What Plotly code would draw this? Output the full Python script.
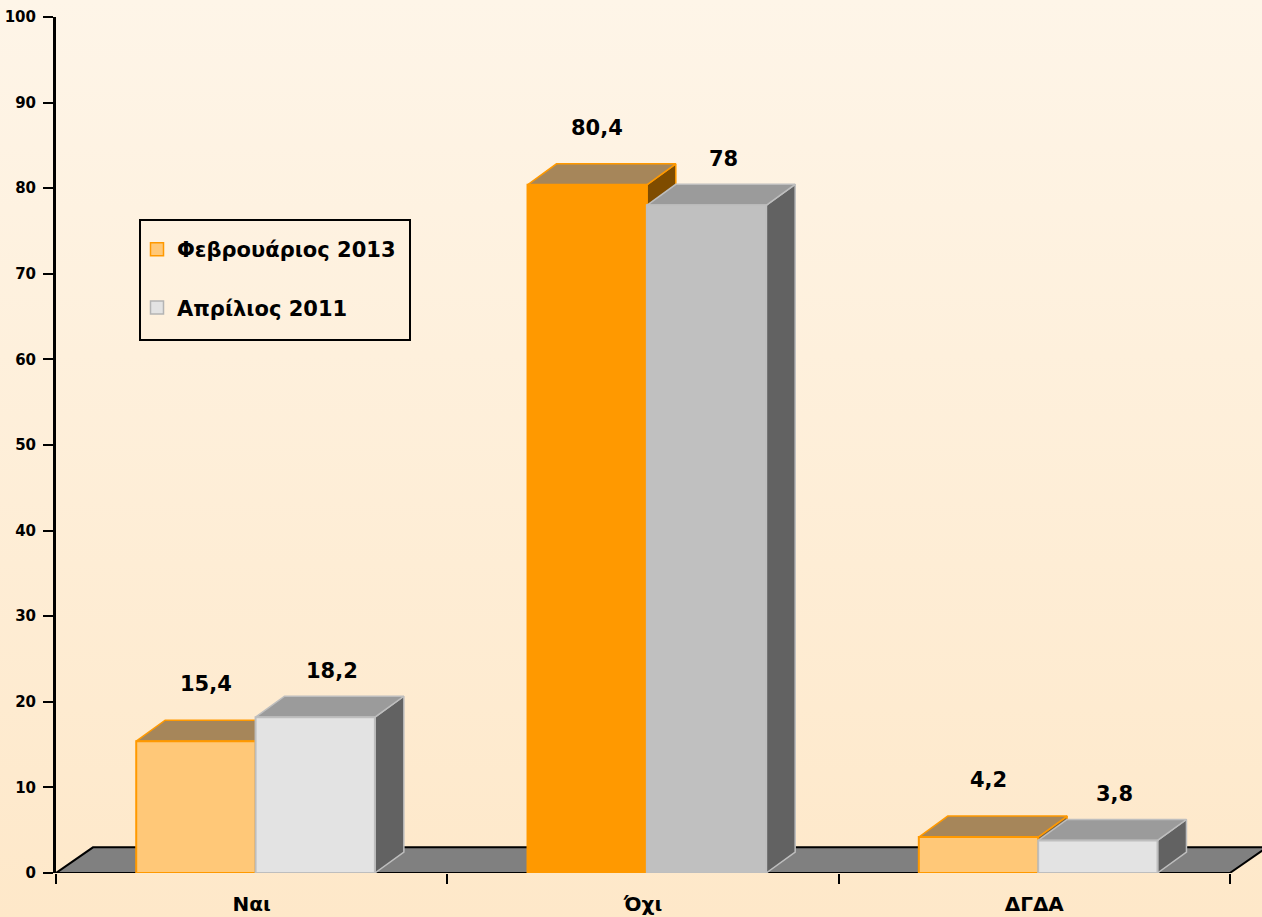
import plotly.graph_objects as go

# ---- data -------------------------------------------------------------
categories = ["Ναι", "Όχι", "ΔΓΔΑ"]
series_names = ["Φεβρουάριος 2013", "Απρίλιος 2011"]
feb_2013 = [15.4, 80.4, 4.2]
apr_2011 = [18.2, 78.0, 3.8]
y_ticks = [0, 10, 20, 30, 40, 50, 60, 70, 80, 90, 100]

# ---- styling -----------------------------------------------------------
FONT = "DejaVu Sans"
W, H = 1262, 917
PLOT_LEFT, PLOT_TOP, PLOT_BOTTOM = 56, 17, 44
X_UNIT_PX = 391.3                       # pixels per category slot
X_MAX = (W - PLOT_LEFT) / X_UNIT_PX

BAR_W = 0.305
OFFSETS = [-0.295, 0.010]
DX, DY = 0.074, 2.45                    # bar depth (x units, y units)
FLOOR_DX, FLOOR_DY = 0.0945, 3.0

styles = [
    dict(front=["#FFC878", "#FF9900", "#FFC878"],
         top=["#A6865A", "#A6865A", "#A6865A"],
         side=["#80643C", "#7F4C00", "#80643C"],
         line="#FF9900", legend_fill="#FFC878", legend_line="#FF9900",
         label_dx=10, label_dy=57),
    dict(front=["#E3E3E3", "#C0C0C0", "#E3E3E3"],
         top=["#9B9B9B", "#9B9B9B", "#9B9B9B"],
         side=["#626262", "#626262", "#626262"],
         line="#BEBEBE", legend_fill="#E3E3E3", legend_line="#B4B4B4",
         label_dx=17, label_dy=46),
]

BG_TOP, BG_BOTTOM = "#FEF5E8", "#FEE8C9"

fig = go.Figure()

# page background gradient (full-page subplot drawn first)
fig.add_trace(go.Scatter(
    x=[0, 1, 1, 0, 0], y=[0, 0, 1, 1, 0], mode="lines", fill="toself",
    line=dict(width=0), fillgradient=dict(type="vertical",
                                         colorscale=[[0, BG_BOTTOM], [1, BG_TOP]]),
    hoverinfo="skip", showlegend=False, xaxis="x", yaxis="y"))


def poly(xs, ys, fill, line_color, line_width):
    fig.add_trace(go.Scatter(
        x=xs + [xs[0]], y=ys + [ys[0]], mode="lines", fill="toself",
        fillcolor=fill, line=dict(color=line_color, width=line_width),
        hoverinfo="skip", showlegend=False, xaxis="x2", yaxis="y2"))


# floor
n_cat = len(categories)
poly([0, n_cat, n_cat + FLOOR_DX, FLOOR_DX], [0, 0, FLOOR_DY, FLOOR_DY],
     "#808080", "#000000", 2)

# 3-D columns: side, top, front for each series, left series first
all_values = [feb_2013, apr_2011]
for ci in range(n_cat):
    c = ci + 0.5
    for si, vals in enumerate(all_values):
        st = styles[si]
        v = vals[ci]
        x0 = c + OFFSETS[si]
        x1 = x0 + BAR_W
        poly([x1, x1 + DX, x1 + DX, x1], [0, DY, v + DY, v],
             st["side"][ci], st["line"], 1.5)
        poly([x0, x1, x1 + DX, x0 + DX], [v, v, v + DY, v + DY],
             st["top"][ci], st["line"], 1.5)
        poly([x0, x1, x1, x0], [0, 0, v, v],
             st["front"][ci], st["line"], 2)

# legend entries
for si, name in enumerate(series_names):
    st = styles[si]
    fig.add_trace(go.Scatter(
        x=[None], y=[None], mode="markers", name=name, legendgroup=name,
        marker=dict(symbol="square", size=13, color=st["legend_fill"],
                    line=dict(color=st["legend_line"], width=1.5)),
        xaxis="x2", yaxis="y2"))

# value labels
annotations = []
for si, vals in enumerate(all_values):
    st = styles[si]
    for ci, v in enumerate(vals):
        xc = ci + 0.5 + OFFSETS[si] + BAR_W / 2
        annotations.append(dict(
            x=xc, y=v, xref="x2", yref="y2", text=f"{v:g}".replace(".", ","),
            showarrow=False, xshift=st["label_dx"], yshift=st["label_dy"],
            font=dict(family=FONT, size=21, color="#000000", weight="bold")))

x_dom = [PLOT_LEFT / W, 1.0]
y_dom = [PLOT_BOTTOM / H, 1 - PLOT_TOP / H]

# legend frame
shapes = [dict(type="rect", xref="paper", yref="paper",
               x0=140 / W, x1=410 / W, y0=1 - 340 / H, y1=1 - 220 / H,
               line=dict(color="#000000", width=2), fillcolor="rgba(0,0,0,0)",
               layer="above")]

fig.update_layout(
    width=W, height=H,
    margin=dict(l=0, r=0, t=0, b=0, autoexpand=False),
    paper_bgcolor=BG_TOP, plot_bgcolor="rgba(0,0,0,0)",
    font=dict(family=FONT, color="#000000", weight="bold"),
    xaxis=dict(domain=[0, 1], range=[0, 1], visible=False, fixedrange=True,
               automargin=False),
    yaxis=dict(domain=[0, 1], range=[0, 1], visible=False, fixedrange=True,
               automargin=False),
    xaxis2=dict(domain=x_dom, range=[0, X_MAX], anchor="y2", automargin=False,
                tickmode="array", tickvals=[i + 0.5 for i in range(n_cat)],
                ticktext=categories, ticks="", showgrid=False, zeroline=False,
                showline=False, ticklabelstandoff=17,
                tickfont=dict(family=FONT, size=20, weight="bold"),
                minor=dict(tickmode="array", tickvals=list(range(n_cat + 1)),
                           ticks="outside", ticklen=10, tickwidth=2,
                           tickcolor="#000000", showgrid=False)),
    yaxis2=dict(domain=y_dom, range=[0, 100], anchor="x2", automargin=False,
                tickmode="array", tickvals=y_ticks,
                ticks="outside", ticklen=10, tickwidth=2, tickcolor="#000000",
                showline=True, linecolor="#000000", linewidth=3,
                showgrid=False, zeroline=False, ticklabelstandoff=4,
                tickfont=dict(family=FONT, size=15, weight="bold")),
    legend=dict(x=137 / W, y=1 - 229 / H, xanchor="left", yanchor="top",
                bgcolor="rgba(0,0,0,0)", borderwidth=0,
                tracegroupgap=28,
                font=dict(family=FONT, size=21, weight="bold")),
    shapes=shapes,
    annotations=annotations,
    showlegend=True,
)

fig.write_html("out.html")
